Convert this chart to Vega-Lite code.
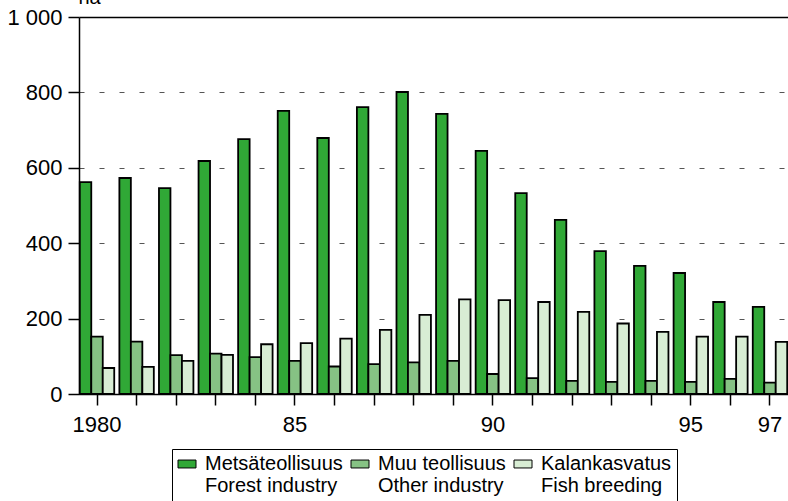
{
  "$schema": "https://vega.github.io/schema/vega-lite/v6.json",
  "width": 709,
  "height": 377,
  "autosize": {"type": "none"},
  "padding": {"left": 79, "top": 17, "right": 0, "bottom": 107},
  "background": "white",
  "config": {
    "view": {"stroke": null},
    "font": "Liberation Sans"
  },
  "data": {
    "values": [
      {"year": "1980", "series": "Metsäteollisuus", "value": 562},
      {"year": "1981", "series": "Metsäteollisuus", "value": 573},
      {"year": "1982", "series": "Metsäteollisuus", "value": 546},
      {"year": "1983", "series": "Metsäteollisuus", "value": 618},
      {"year": "1984", "series": "Metsäteollisuus", "value": 676},
      {"year": "1985", "series": "Metsäteollisuus", "value": 751},
      {"year": "1986", "series": "Metsäteollisuus", "value": 679},
      {"year": "1987", "series": "Metsäteollisuus", "value": 761},
      {"year": "1988", "series": "Metsäteollisuus", "value": 801},
      {"year": "1989", "series": "Metsäteollisuus", "value": 743},
      {"year": "1990", "series": "Metsäteollisuus", "value": 645},
      {"year": "1991", "series": "Metsäteollisuus", "value": 533},
      {"year": "1992", "series": "Metsäteollisuus", "value": 462},
      {"year": "1993", "series": "Metsäteollisuus", "value": 379},
      {"year": "1994", "series": "Metsäteollisuus", "value": 340},
      {"year": "1995", "series": "Metsäteollisuus", "value": 321},
      {"year": "1996", "series": "Metsäteollisuus", "value": 244},
      {"year": "1997", "series": "Metsäteollisuus", "value": 231},
      {"year": "1980", "series": "Muu teollisuus", "value": 152},
      {"year": "1981", "series": "Muu teollisuus", "value": 139},
      {"year": "1982", "series": "Muu teollisuus", "value": 103},
      {"year": "1983", "series": "Muu teollisuus", "value": 107},
      {"year": "1984", "series": "Muu teollisuus", "value": 98},
      {"year": "1985", "series": "Muu teollisuus", "value": 88},
      {"year": "1986", "series": "Muu teollisuus", "value": 73},
      {"year": "1987", "series": "Muu teollisuus", "value": 79},
      {"year": "1988", "series": "Muu teollisuus", "value": 84},
      {"year": "1989", "series": "Muu teollisuus", "value": 88},
      {"year": "1990", "series": "Muu teollisuus", "value": 53},
      {"year": "1991", "series": "Muu teollisuus", "value": 42},
      {"year": "1992", "series": "Muu teollisuus", "value": 35},
      {"year": "1993", "series": "Muu teollisuus", "value": 32},
      {"year": "1994", "series": "Muu teollisuus", "value": 35},
      {"year": "1995", "series": "Muu teollisuus", "value": 32},
      {"year": "1996", "series": "Muu teollisuus", "value": 40},
      {"year": "1997", "series": "Muu teollisuus", "value": 30},
      {"year": "1980", "series": "Kalankasvatus", "value": 69},
      {"year": "1981", "series": "Kalankasvatus", "value": 72},
      {"year": "1982", "series": "Kalankasvatus", "value": 88},
      {"year": "1983", "series": "Kalankasvatus", "value": 104},
      {"year": "1984", "series": "Kalankasvatus", "value": 132},
      {"year": "1985", "series": "Kalankasvatus", "value": 135},
      {"year": "1986", "series": "Kalankasvatus", "value": 147},
      {"year": "1987", "series": "Kalankasvatus", "value": 170},
      {"year": "1988", "series": "Kalankasvatus", "value": 210},
      {"year": "1989", "series": "Kalankasvatus", "value": 251},
      {"year": "1990", "series": "Kalankasvatus", "value": 249},
      {"year": "1991", "series": "Kalankasvatus", "value": 244},
      {"year": "1992", "series": "Kalankasvatus", "value": 218},
      {"year": "1993", "series": "Kalankasvatus", "value": 187},
      {"year": "1994", "series": "Kalankasvatus", "value": 165},
      {"year": "1995", "series": "Kalankasvatus", "value": 152},
      {"year": "1996", "series": "Kalankasvatus", "value": 152},
      {"year": "1997", "series": "Kalankasvatus", "value": 138}
    ]
  },
  "mark": {"type": "bar", "stroke": "black", "strokeWidth": 1.8},
  "encoding": {
    "x": {
      "field": "year",
      "type": "ordinal",
      "scale": {"paddingInner": 0.13, "paddingOuter": 0.02},
      "axis": {
        "title": null,
        "labelAngle": 0,
        "labelFontSize": 22,
        "labelColor": "black",
        "labelPadding": 9,
        "labelOverlap": false,
        "labelExpr": "datum.value == '1980' ? '1980' : (datum.value == '1985' || datum.value == '1990' || datum.value == '1995' || datum.value == '1997') ? substring(datum.value, 2) : ''",
        "tickSize": 11,
        "tickColor": "black",
        "tickWidth": 1.5,
        "domainColor": "black",
        "domainWidth": 1.5
      }
    },
    "xOffset": {
      "field": "series",
      "type": "nominal",
      "scale": {"domain": ["Metsäteollisuus", "Muu teollisuus", "Kalankasvatus"], "paddingInner": 0, "paddingOuter": 0}
    },
    "y": {
      "field": "value",
      "type": "quantitative",
      "scale": {"domain": [0, 1000], "nice": false},
      "axis": {
        "values": [0, 200, 400, 600, 800, 1000],
        "title": "ha",
        "titleAngle": 0,
        "titleX": -1,
        "titleY": -14,
        "titleAlign": "left",
        "titleBaseline": "alphabetic",
        "titleFontSize": 20,
        "titleFontWeight": "normal",
        "titleColor": "black",
        "labelExpr": "datum.value == 1000 ? '1 000' : datum.label",
        "labelFontSize": 22,
        "labelColor": "black",
        "labelPadding": 6,
        "tickSize": 11,
        "tickColor": "black",
        "tickWidth": 1.5,
        "domainColor": "black",
        "domainWidth": 1.5,
        "grid": true,
        "gridColor": {"condition": {"test": "datum.value == 1000", "value": "black"}, "value": "#555555"},
        "gridWidth": {"condition": {"test": "datum.value == 1000", "value": 1.5}, "value": 1},
        "gridDash": {"condition": {"test": "datum.value == 1000", "value": []}, "value": [5, 15]}
      }
    },
    "color": {
      "field": "series",
      "type": "nominal",
      "scale": {
        "domain": ["Metsäteollisuus", "Muu teollisuus", "Kalankasvatus"],
        "range": ["#30a836", "#86c284", "#d8edd4"]
      },
      "legend": {
        "title": null,
        "orient": "none",
        "legendX": 93,
        "legendY": 432,
        "direction": "horizontal",
        "columns": 3,
        "strokeColor": "black",
        "fillColor": "white",
        "padding": 5,
        "symbolType": "M-1,-0.44H1V0.44H-1Z",
        "symbolSize": 324,
        "symbolStrokeColor": "black",
        "symbolStrokeWidth": 1,
        "labelFontSize": 20,
        "labelColor": "black",
        "labelOffset": 8,
        "labelLimit": 0,
        "columnPadding": 6,
        "labelExpr": "datum.label == 'Metsäteollisuus' ? ['Metsäteollisuus', 'Forest industry'] : datum.label == 'Muu teollisuus' ? ['Muu teollisuus', 'Other industry'] : ['Kalankasvatus', 'Fish breeding']"
      }
    }
  }
}
